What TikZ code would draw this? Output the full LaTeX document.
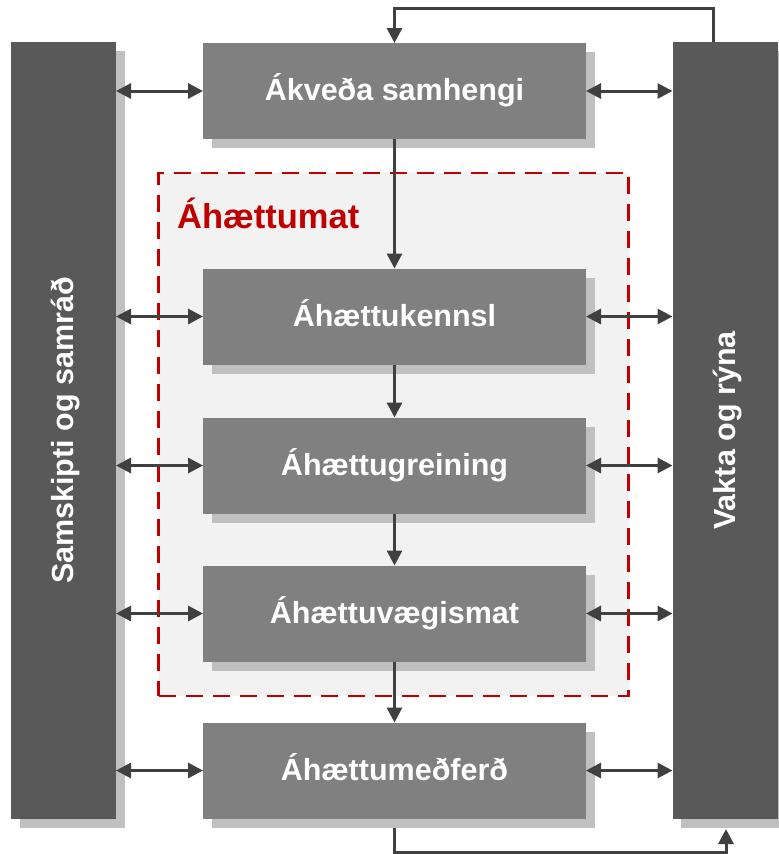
\documentclass[tikz,border=0pt]{standalone}
\usepackage{fontspec}
\setmainfont{Liberation Sans}
\usetikzlibrary{arrows.meta,backgrounds}
\definecolor{barc}{HTML}{595959}
\definecolor{boxc}{HTML}{808080}
\definecolor{shc}{HTML}{C0C0C0}
\definecolor{arrc}{HTML}{404040}
\definecolor{redc}{HTML}{C00000}
\definecolor{panelc}{HTML}{F2F2F2}
\begin{document}
\begin{tikzpicture}[x=1pt,y=-1pt,
  shadowed/.style={preaction={fill=shc, transform canvas={xshift=8.5pt,yshift=-9pt}}},
  stepbox/.style={shadowed, fill=boxc, minimum width=383pt, minimum height=96pt,
    inner sep=0pt, outer sep=0pt, text=white,
    font=\fontsize{30.5}{36}\selectfont\bfseries, text height=19pt, text depth=0pt},
  sidebar/.style={shadowed, fill=barc, rotate=90, minimum width=777pt, minimum height=105pt,
    inner sep=0pt, outer sep=0pt, text=white,
    font=\fontsize{30.5}{36}\selectfont\bfseries, text height=20pt, text depth=0pt},
  panel/.style={fill=panelc, draw=redc, line width=2.6pt, dash pattern=on 17pt off 10pt,
    minimum width=470pt, minimum height=523pt, inner sep=0pt, outer sep=0pt},
  paneltitle/.style={text=redc, font=\fontsize{34.5}{40}\selectfont\bfseries, inner sep=0pt},
  arr/.style={draw=arrc, line width=3pt, -{Triangle[length=15pt,width=15pt]}},
  dbl/.style={draw=arrc, line width=3pt, {Triangle[length=15pt,width=15pt]}-{Triangle[length=15pt,width=15pt]}}
]
\useasboundingbox (0,0) rectangle (779,854);

\node[panel] (pan) at (393.5,434.5) {};
\node[paneltitle, anchor=base west] (ptitle) at (177,228) {Áhættumat};

\node[sidebar] (lbar) at (63.5,430.5) {Samskipti og samráð};
\node[sidebar] (rbar) at (725,430.5) {Vakta og rýna};

\node[stepbox] (b1) at (394.5,91) {Ákveða samhengi};
\node[stepbox] (b2) at (394.5,316.5) {Áhættukennsl};
\node[stepbox] (b3) at (394.5,465.5) {Áhættugreining};
\node[stepbox] (b4) at (394.5,613.5) {Áhættuvægismat};
\node[stepbox] (b5) at (394.5,770.5) {Áhættumeðferð};

\foreach \b in {b1,b2,b3,b4,b5}{
  \draw[dbl] (\b.west -| lbar.south) -- (\b.west);
  \draw[dbl] (\b.east) -- (\b.east -| rbar.north);
}
\draw[arr] (b1.south) -- (b2.north);
\draw[arr] (b2.south) -- (b3.north);
\draw[arr] (b3.south) -- (b4.north);
\draw[arr] (b4.south) -- (b5.north);

\draw[arr] ([xshift=-12pt]rbar.east) -- ++(0,-34) -| (b1.north);
\begin{scope}[on background layer]
\draw[arr] (b5.south) -- ++(0,34) -| ([xshift=1pt,yshift=-10pt]rbar.west);
\end{scope}
\end{tikzpicture}
\end{document}
